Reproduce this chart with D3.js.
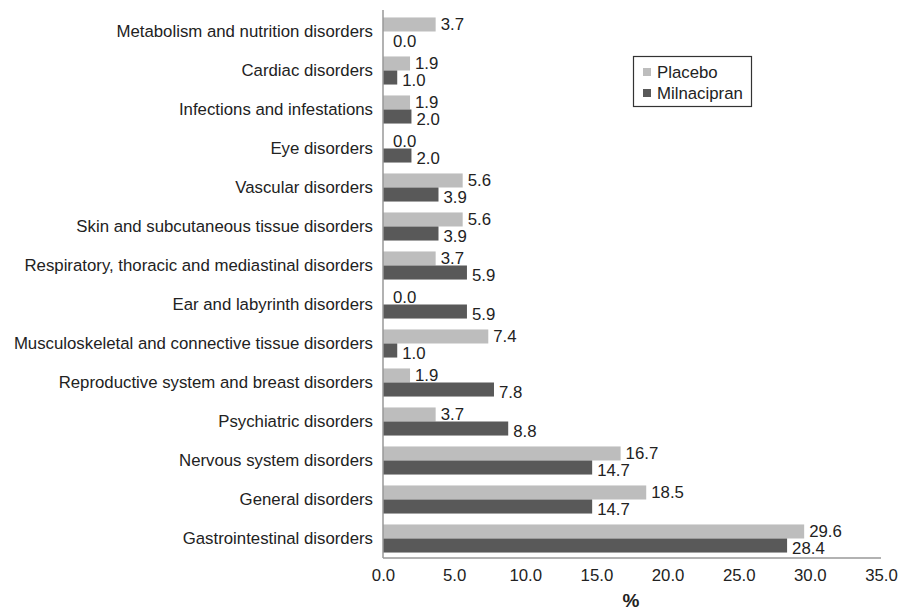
<!DOCTYPE html>
<html><head><meta charset="utf-8">
<script src="https://cdn.jsdelivr.net/npm/d3@7"></script>
<style>body{margin:0;background:#fff;} text{font-family:"Liberation Sans",Arial,sans-serif;}</style>
</head><body>
<svg id="c" width="902" height="614"></svg>
<script>
const categories = ["Metabolism and nutrition disorders","Cardiac disorders","Infections and infestations","Eye disorders","Vascular disorders","Skin and subcutaneous tissue disorders","Respiratory, thoracic and mediastinal disorders","Ear and labyrinth disorders","Musculoskeletal and connective tissue disorders","Reproductive system and breast disorders","Psychiatric disorders","Nervous system disorders","General disorders","Gastrointestinal disorders"];
const placebo = [3.7,1.9,1.9,0.0,5.6,5.6,3.7,0.0,7.4,1.9,3.7,16.7,18.5,29.6];
const milnacipran = [0.0,1.0,2.0,2.0,3.9,3.9,5.9,5.9,1.0,7.8,8.8,14.7,14.7,28.4];
const seriesNames = ["Placebo","Milnacipran"];
const xTicks = [0,5,10,15,20,25,30,35];
const colors = ["#bdbdbd","#595959"];

const FS = 16.8;
const svg = d3.select("#c");
const x = d3.scaleLinear().domain([0,35]).range([383,881]);
const y = d3.scaleBand().domain(categories).range([12,558]).paddingInner(0.28).paddingOuter(0.14);
const y1 = d3.scaleBand().domain(seriesNames).range([0,y.bandwidth()]);

const data = categories.map((c,i)=>({cat:c, vals:[{s:"Placebo",v:placebo[i]},{s:"Milnacipran",v:milnacipran[i]}]}));

const g = svg.append("g");
const grp = g.selectAll("g.grp").data(data).join("g").attr("transform",d=>`translate(0,${y(d.cat)})`);
grp.selectAll("rect").data(d=>d.vals).join("rect")
  .attr("x",x(0)).attr("y",d=>y1(d.s)).attr("width",d=>x(d.v)-x(0)).attr("height",y1.bandwidth())
  .attr("fill",(d,i)=>colors[i]);
grp.selectAll("text").data(d=>d.vals).join("text")
  .attr("x",d=>Math.max(x(d.v)+5, x(0)+10))
  .attr("y",(d,i)=>y1(d.s)+y1.bandwidth()/2+(i===0?-0.5:2.5)).attr("dy","0.35em")
  .attr("font-size",FS).attr("fill","#222").text(d=>d.v.toFixed(1));

// y axis
const ya = svg.append("g").attr("transform",`translate(${x(0)},0)`).call(d3.axisLeft(y).tickSize(0).tickPadding(10));
ya.select(".domain").remove();
ya.selectAll("text").attr("font-size",FS).attr("fill","#222").style("font-family","'Liberation Sans',Arial,sans-serif");
svg.append("line").attr("x1",x(0)).attr("x2",x(0)).attr("y1",10).attr("y2",558).attr("stroke","#999").attr("stroke-width",1.5);

// x axis
const xa = svg.append("g").attr("transform","translate(0,558)").call(d3.axisBottom(x).tickValues(xTicks).tickSize(0).tickPadding(11).tickFormat(d3.format(".1f")));
xa.select(".domain").remove();
xa.selectAll("text").attr("font-size",FS).attr("fill","#222").style("font-family","'Liberation Sans',Arial,sans-serif");
svg.append("line").attr("x1",x(0)).attr("x2",881).attr("y1",558).attr("y2",558).attr("stroke","#999").attr("stroke-width",1.5);

svg.append("text").attr("x",x(17.5)-1).attr("y",607).attr("text-anchor","middle").attr("font-size",19).attr("font-weight","bold").attr("fill","#222").text("%");

// legend
const lg = svg.append("g");
lg.append("rect").attr("x",633.5).attr("y",56.5).attr("width",118).attr("height",50).attr("fill","#fff").attr("stroke","#333").attr("stroke-width",1.2);
seriesNames.forEach((s,i)=>{
  const yy = 72 + i*21;
  lg.append("rect").attr("x",643).attr("y",yy-4).attr("width",8).attr("height",8).attr("fill",colors[i]);
  lg.append("text").attr("x",657).attr("y",yy).attr("dy","0.35em").attr("font-size",FS).attr("fill","#222").text(s);
});
</script>
</body></html>
